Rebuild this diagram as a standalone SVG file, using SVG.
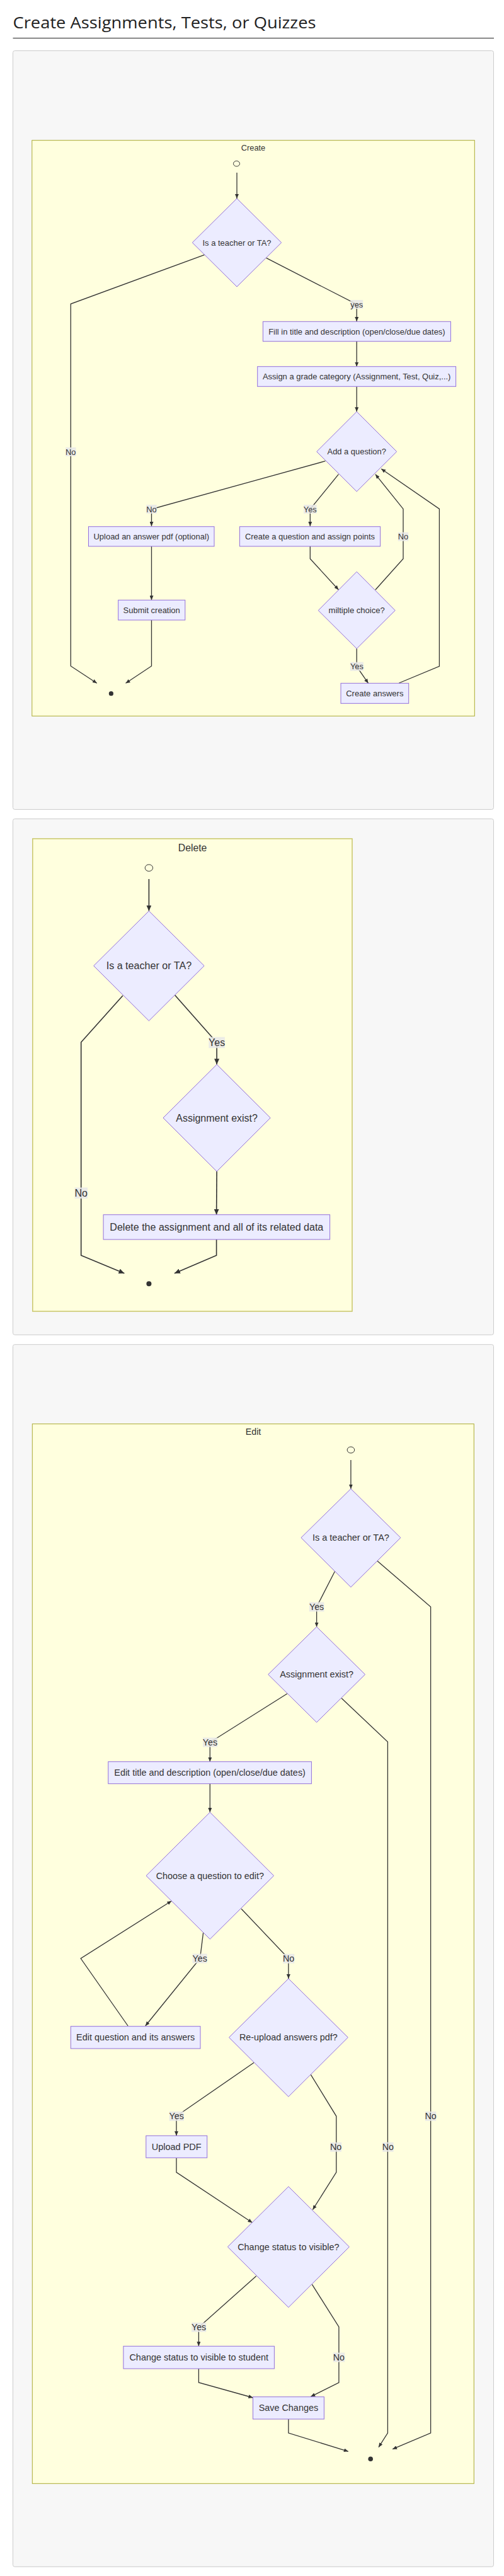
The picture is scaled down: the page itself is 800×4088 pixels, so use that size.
<svg xmlns="http://www.w3.org/2000/svg" width="800" height="4088" viewBox="0 0 800 4088">
<style>
.panel{fill:#f7f7f7;stroke:#cccccc;stroke-width:1}
.cluster{fill:#ffffde;stroke:#aaaa33;stroke-width:1}
.node{fill:#ececff;stroke:#9370db;stroke-width:1}
.t{font-family:"Liberation Sans",Arial,sans-serif;fill:#333333;text-anchor:middle;dominant-baseline:central}
.c{font-size:12.8px}
.d{font-size:16px}
.e{font-size:14.3px}
.edge{fill:none;stroke:#333333;stroke-width:1.3}
.edgeD{fill:none;stroke:#333333;stroke-width:1.6}
.lbl{fill:#e8e8e8;opacity:0.85}
.start{fill:none;stroke:#333333;stroke-width:1}
.end{fill:#333333}
</style>
<defs>
<marker id="arr" viewBox="0 0 10 10" refX="10" refY="5" markerWidth="7" markerHeight="6" markerUnits="userSpaceOnUse" preserveAspectRatio="none" orient="auto"><path d="M0,0 L10,5 L0,10 z" fill="#333333"/></marker>
<marker id="arrD" viewBox="0 0 10 10" refX="10" refY="5" markerWidth="9" markerHeight="8" markerUnits="userSpaceOnUse" preserveAspectRatio="none" orient="auto"><path d="M0,0 L10,5 L0,10 z" fill="#333333"/></marker>
</defs>
<rect width="800" height="4088" fill="#ffffff"/>
<g id="title">
<text x="20.5" y="45" font-family="'Open Sans','Noto Sans',sans-serif" font-size="25.5" fill="#222222" textLength="481" lengthAdjust="spacingAndGlyphs">Create Assignments, Tests, or Quizzes</text>
<line x1="20.5" y1="60.5" x2="784" y2="60.5" stroke="#222222" stroke-width="1.2"/>
</g>

<!-- ================= CREATE ================= -->
<g id="panel-create">
<rect class="panel" x="20.5" y="80.5" width="763" height="1204" rx="3"/>
<rect class="cluster" x="50.8" y="222.7" width="702.5" height="913.6"/>
<text class="t c" x="402" y="234" textLength="38.5" lengthAdjust="spacingAndGlyphs">Create</text>
</g>
<g id="create-connectors">
<polyline class="edge" points="376,274 376,315" marker-end="url(#arr)"/>
<polyline class="edge" points="324.6,404.3 112.3,482.3 112.3,1057 153.8,1084.3" marker-end="url(#arr)"/>
<polyline class="edge" points="422.6,409.3 566.2,483 566.2,510" marker-end="url(#arr)"/>
<polyline class="edge" points="566.2,541.7 566.2,581.7" marker-end="url(#arr)"/>
<polyline class="edge" points="566.2,613.3 566.2,653.3" marker-end="url(#arr)"/>
<polyline class="edge" points="516.4,731.7 240.5,808 240.5,835" marker-end="url(#arr)"/>
<polyline class="edge" points="537.4,752.7 492.3,808 492.3,835" marker-end="url(#arr)"/>
<polyline class="edge" points="240.5,867 240.5,952.3" marker-end="url(#arr)"/>
<polyline class="edge" points="240.5,984 240.5,1057 199.5,1084.3" marker-end="url(#arr)"/>
<polyline class="edge" points="492.3,867 492.3,886.7 537.4,936" marker-end="url(#arr)"/>
<polyline class="edge" points="595.9,936 640,886.7 640,807.7 595.9,752.7" marker-end="url(#arr)"/>
<polyline class="edge" points="566.2,1029.3 566.2,1057.7 584.6,1084.3" marker-end="url(#arr)"/>
<polyline class="edge" points="633.3,1084 697.4,1057.3 697.4,807.7 605.1,744" marker-end="url(#arr)"/>
<g id="create-edge-labels">
<rect class="lbl" x="104.1" y="710" width="16.4" height="14"/><text class="t c" x="112.3" y="717">No</text>
<rect class="lbl" x="556.2" y="476" width="20" height="14"/><text class="t c" x="566.2" y="483">yes</text>
<rect class="lbl" x="232.3" y="801" width="16.4" height="14"/><text class="t c" x="240.5" y="808">No</text>
<rect class="lbl" x="482" y="801" width="20.6" height="14"/><text class="t c" x="492.3" y="808">Yes</text>
<rect class="lbl" x="631.8" y="844.7" width="16.4" height="14"/><text class="t c" x="640" y="851.7">No</text>
<rect class="lbl" x="555.9" y="1050.7" width="21" height="14"/><text class="t c" x="566.4" y="1057.7">Yes</text>
</g>
</g>
<g id="create-start"><ellipse class="start" cx="375.5" cy="259.7" rx="5" ry="4.3"/></g>
<g id="create-is-teacher">
<polygon class="node" points="376,315 446.7,385 376,455 305.3,385"/>
<text class="t c" x="376" y="385" textLength="109" lengthAdjust="spacingAndGlyphs">Is a teacher or TA?</text>
</g>
<g id="create-fill-title">
<rect class="node" x="417.4" y="510.3" width="298" height="31.4"/>
<text class="t c" x="566.4" y="526" textLength="280.5" lengthAdjust="spacingAndGlyphs">Fill in title and description (open/close/due dates)</text>
</g>
<g id="create-grade-category">
<rect class="node" x="408.7" y="581.7" width="314.9" height="31.6"/>
<text class="t c" x="566.2" y="597.5" textLength="298.5" lengthAdjust="spacingAndGlyphs">Assign a grade category (Assignment, Test, Quiz,...)</text>
</g>
<g id="create-add-question">
<polygon class="node" points="566.2,653.3 629.7,716.7 566.2,780 502.7,716.7"/>
<text class="t c" x="566.2" y="716.7" textLength="93.3" lengthAdjust="spacingAndGlyphs">Add a question?</text>
</g>
<g id="create-upload-pdf">
<rect class="node" x="140.5" y="835.7" width="199.5" height="31.3"/>
<text class="t c" x="240.3" y="851.3" textLength="183.6" lengthAdjust="spacingAndGlyphs">Upload an answer pdf (optional)</text>
</g>
<g id="create-question">
<rect class="node" x="380.5" y="835.7" width="223.1" height="31.3"/>
<text class="t c" x="492" y="851.3" textLength="206.2" lengthAdjust="spacingAndGlyphs">Create a question and assign points</text>
</g>
<g id="create-submit">
<rect class="node" x="187.7" y="952.3" width="106.1" height="31.7"/>
<text class="t c" x="240.7" y="968.2" textLength="90.2" lengthAdjust="spacingAndGlyphs">Submit creation</text>
</g>
<g id="create-multiple-choice">
<polygon class="node" points="566.2,907.3 627.2,968.7 566.2,1029.3 505.2,968.7"/>
<text class="t c" x="566.2" y="968.7" textLength="89.3" lengthAdjust="spacingAndGlyphs">miltiple choice?</text>
</g>
<g id="create-answers">
<rect class="node" x="541" y="1084.3" width="107.7" height="32"/>
<text class="t c" x="594.8" y="1100.3" textLength="91.3" lengthAdjust="spacingAndGlyphs">Create answers</text>
</g>
<g id="create-end"><circle class="end" cx="176.4" cy="1100.7" r="3.6"/></g>

<!-- ================= DELETE ================= -->
<g id="panel-delete">
<rect class="panel" x="20.5" y="1299.5" width="763" height="818.8" rx="3"/>
<rect class="cluster" x="51.8" y="1331" width="507.2" height="750" style="stroke:#c9c66a;stroke-width:1.5"/>
<text class="t d" x="305.6" y="1345.3" textLength="45.6" lengthAdjust="spacingAndGlyphs">Delete</text>
</g>
<g id="delete-connectors">
<polyline class="edgeD" points="236.4,1395 236.4,1445.7" marker-end="url(#arrD)"/>
<polyline class="edgeD" points="194.9,1580 128.7,1654 128.7,1992.3 197.4,2020.7" marker-end="url(#arrD)"/>
<polyline class="edgeD" points="277.4,1579 344.1,1654.5 344.1,1689.3" marker-end="url(#arrD)"/>
<polyline class="edgeD" points="344.1,1859 343.6,1927.7" marker-end="url(#arrD)"/>
<polyline class="edgeD" points="343.6,1967 343.6,1992.3 276.9,2020.7" marker-end="url(#arrD)"/>
<g id="delete-edge-labels">
<rect class="lbl" x="118.5" y="1884.5" width="20.5" height="17.6"/><text class="t d" x="128.7" y="1893.3">No</text>
<rect class="lbl" x="331.3" y="1645.7" width="25.6" height="17.6"/><text class="t d" x="344.1" y="1654.5">Yes</text>
</g>
</g>
<g id="delete-start"><ellipse class="start" cx="236.4" cy="1377.3" rx="6.2" ry="5.3"/></g>
<g id="delete-is-teacher">
<polygon class="node" points="236.4,1445.7 324.1,1532.7 236.4,1620 148.7,1532.7"/>
<text class="t d" x="236.4" y="1532.7" textLength="135.4" lengthAdjust="spacingAndGlyphs">Is a teacher or TA?</text>
</g>
<g id="delete-assignment-exist">
<polygon class="node" points="344.1,1689.3 429.2,1774 344.1,1859 259,1774"/>
<text class="t d" x="344.1" y="1774" textLength="129.7" lengthAdjust="spacingAndGlyphs">Assignment exist?</text>
</g>
<g id="delete-assignment">
<rect class="node" x="164.1" y="1927.7" width="359.5" height="39.3"/>
<text class="t d" x="343.8" y="1947.3" textLength="339" lengthAdjust="spacingAndGlyphs">Delete the assignment and all of its related data</text>
</g>
<g id="delete-end"><circle class="end" cx="236.4" cy="2037.3" r="4"/></g>

<!-- ================= EDIT ================= -->
<g id="panel-edit">
<rect class="panel" x="20.5" y="2133.7" width="763" height="1939.6" rx="3"/>
<rect class="cluster" x="51.3" y="2259.7" width="701" height="1681.6"/>
<text class="t e" x="402" y="2272.3" textLength="24.6" lengthAdjust="spacingAndGlyphs">Edit</text>
</g>
<g id="edit-connectors">
<polyline class="edge" points="556.9,2317 556.9,2362.7" marker-end="url(#arr)"/>
<polyline class="edge" points="531.3,2494 502.6,2550 502.6,2581.7" marker-end="url(#arr)"/>
<polyline class="edge" points="599,2477.3 683.6,2550 683.6,3861 623.1,3886.7" marker-end="url(#arr)"/>
<polyline class="edge" points="455.9,2687.7 333.3,2765 333.3,2795.7" marker-end="url(#arr)"/>
<polyline class="edge" points="542.1,2695 615.4,2764.3 615.4,3861 601,3883.7" marker-end="url(#arr)"/>
<polyline class="edge" points="333.3,2830.7 333.3,2876" marker-end="url(#arr)"/>
<polyline class="edge" points="322.6,3067.3 317.5,3108 230.8,3215" marker-end="url(#arr)"/>
<polyline class="edge" points="203.1,3215 128.2,3108 272.3,3016.7" marker-end="url(#arr)"/>
<polyline class="edge" points="383.1,3029.3 457.9,3108 457.9,3140" marker-end="url(#arr)"/>
<polyline class="edge" points="403.1,3273.3 280,3358.3 280,3389.3" marker-end="url(#arr)"/>
<polyline class="edge" points="493.3,3292.3 533.8,3358.3 533.8,3447.3 496.4,3506.7" marker-end="url(#arr)"/>
<polyline class="edge" points="280,3424.3 280,3447.3 400.5,3527.3" marker-end="url(#arr)"/>
<polyline class="edge" points="406.7,3612 315.4,3693.3 315.4,3723.3" marker-end="url(#arr)"/>
<polyline class="edge" points="495.4,3625.3 537.9,3692.7 537.9,3781 493.3,3803.3" marker-end="url(#arr)"/>
<polyline class="edge" points="315.4,3759 315.4,3781 401.5,3805" marker-end="url(#arr)"/>
<polyline class="edge" points="457.9,3839 457.9,3861 552.8,3890.3" marker-end="url(#arr)"/>
<g id="edit-edge-labels">
<rect class="lbl" x="490.8" y="2542.5" width="23.6" height="15"/><text class="t e" x="502.6" y="2550">Yes</text>
<rect class="lbl" x="674.9" y="3350.8" width="17.4" height="15"/><text class="t e" x="683.6" y="3358.3">No</text>
<rect class="lbl" x="322" y="2757.5" width="23.1" height="15"/><text class="t e" x="333.5" y="2765">Yes</text>
<rect class="lbl" x="607.2" y="3399.8" width="17.4" height="15"/><text class="t e" x="615.9" y="3407.3">No</text>
<rect class="lbl" x="305.6" y="3100.5" width="23.1" height="15"/><text class="t e" x="317.2" y="3108">Yes</text>
<rect class="lbl" x="449.2" y="3100.8" width="18" height="15"/><text class="t e" x="458.2" y="3108.3">No</text>
<rect class="lbl" x="268.7" y="3350.8" width="23.1" height="15"/><text class="t e" x="280.2" y="3358.3">Yes</text>
<rect class="lbl" x="524.1" y="3399.8" width="18" height="15"/><text class="t e" x="533.1" y="3407.3">No</text>
<rect class="lbl" x="304.1" y="3685.8" width="23.1" height="15"/><text class="t e" x="315.6" y="3693.3">Yes</text>
<rect class="lbl" x="528.7" y="3733.5" width="18.5" height="15"/><text class="t e" x="537.9" y="3741">No</text>
</g>
</g>
<g id="edit-start"><ellipse class="start" cx="556.9" cy="2301" rx="5.8" ry="5"/></g>
<g id="edit-is-teacher">
<polygon class="node" points="556.9,2362.7 635.9,2440.3 556.9,2518.7 477.9,2440.3"/>
<text class="t e" x="556.9" y="2440.3" textLength="122" lengthAdjust="spacingAndGlyphs">Is a teacher or TA?</text>
</g>
<g id="edit-assignment-exist">
<polygon class="node" points="502.6,2581.7 579.5,2657.3 502.6,2733.3 425.7,2657.3"/>
<text class="t e" x="502.6" y="2657.3" textLength="116.9" lengthAdjust="spacingAndGlyphs">Assignment exist?</text>
</g>
<g id="edit-title">
<rect class="node" x="171.8" y="2795.7" width="322.6" height="35"/>
<text class="t e" x="333.1" y="2813.2" textLength="303.6" lengthAdjust="spacingAndGlyphs">Edit title and description (open/close/due dates)</text>
</g>
<g id="edit-choose-question">
<polygon class="node" points="333.3,2876 434.6,2976.7 333.3,3077.3 232,2976.7"/>
<text class="t e" x="333.3" y="2976.7" textLength="171.3" lengthAdjust="spacingAndGlyphs">Choose a question to edit?</text>
</g>
<g id="edit-question">
<rect class="node" x="112.3" y="3215.7" width="205.7" height="35.3"/>
<text class="t e" x="215.2" y="3233.3" textLength="188.2" lengthAdjust="spacingAndGlyphs">Edit question and its answers</text>
</g>
<g id="edit-reupload">
<polygon class="node" points="457.9,3140 552.3,3233.3 457.9,3327.3 363.5,3233.3"/>
<text class="t e" x="457.9" y="3233.3" textLength="155.9" lengthAdjust="spacingAndGlyphs">Re-upload answers pdf?</text>
</g>
<g id="edit-upload-pdf">
<rect class="node" x="231.8" y="3389.3" width="96.9" height="35"/>
<text class="t e" x="280.2" y="3406.8" textLength="79" lengthAdjust="spacingAndGlyphs">Upload PDF</text>
</g>
<g id="edit-visible-question">
<polygon class="node" points="457.9,3470 554.4,3565.7 457.9,3661.7 361.4,3565.7"/>
<text class="t e" x="457.9" y="3565.7" textLength="161.5" lengthAdjust="spacingAndGlyphs">Change status to visible?</text>
</g>
<g id="edit-visible-student">
<rect class="node" x="195.9" y="3723.3" width="239.5" height="35.7"/>
<text class="t e" x="315.7" y="3741.2" textLength="220.5" lengthAdjust="spacingAndGlyphs">Change status to visible to student</text>
</g>
<g id="edit-save">
<rect class="node" x="401.5" y="3803.7" width="112.9" height="35.3"/>
<text class="t e" x="457.9" y="3821.3" textLength="94.4" lengthAdjust="spacingAndGlyphs">Save Changes</text>
</g>
<g id="edit-end"><circle class="end" cx="588.2" cy="3902.3" r="3.8"/></g>
</svg>
